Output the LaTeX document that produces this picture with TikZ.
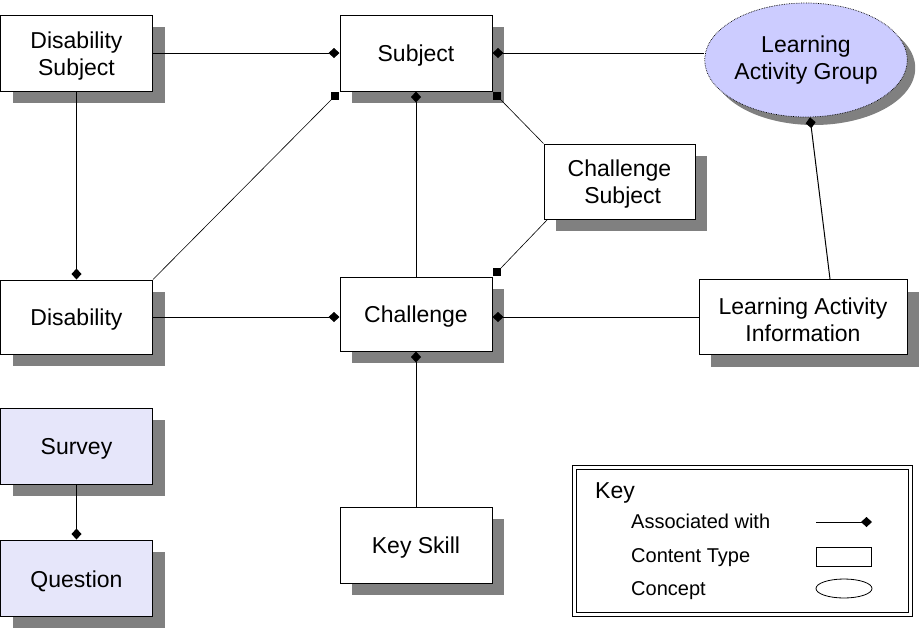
\documentclass[tikz,border=0pt]{standalone}
\usepackage{fontspec}
\setmainfont{Liberation Sans}
\usetikzlibrary{shapes.geometric,shadows,arrows.meta}
\definecolor{shadowgray}{RGB}{128,128,128}
\definecolor{lavfill}{RGB}{230,230,250}
\definecolor{ellfill}{RGB}{204,204,255}
\newcommand{\lowtext}[1]{\raisebox{-3pt}[\height][\depth]{#1}}
\tikzset{
  ctype/.style={draw=black, line width=1pt, fill=white, align=center,
    minimum width=152pt, minimum height=76pt, inner sep=0pt,
    font=\fontsize{23}{27}\selectfont,
    drop shadow={shadow xshift=12pt, shadow yshift=-12pt, fill=shadowgray, opacity=1}},
  concept/.style={ctype, fill=lavfill},
  conc/.style={ellipse, draw=black, densely dotted, line width=0.7pt, fill=ellfill,
    align=center, inner sep=0pt, font=\fontsize{23}{27}\selectfont,
    drop shadow={shadow xshift=8pt, shadow yshift=-8pt, fill=shadowgray, opacity=1}},
  assoc/.style={line width=1pt, -{Diamond[length=11pt,width=10pt]}},
  rassoc/.style={line width=1pt, {Diamond[length=11pt,width=10pt]}-},
  thinline/.style={line width=0.6pt},
  sqmark/.style={fill=black, minimum width=8pt, minimum height=8pt, inner sep=0pt},
  keytxt/.style={anchor=base west, inner sep=0pt, font=\fontsize{20}{24}\selectfont},
}
\begin{document}
\begin{tikzpicture}[x=1pt,y=-1pt]
\useasboundingbox (0,0) rectangle (922,630);
% content types
\node[ctype] (ds) at (76.5,53) {\lowtext{Disability}\\\lowtext{Subject}};
\node[ctype] (subj) at (416,53) {\lowtext{Subject}};
\node[ctype, minimum width=151pt, minimum height=75pt] (cs) at (619.5,181.5) {\lowtext{Challenge}\\\lowtext{ Subject}};
\node[ctype, minimum height=74pt] (dis) at (76.5,317) {\lowtext{Disability}};
\node[ctype, minimum height=74pt] (chal) at (416,314) {\lowtext{Challenge}};
\node[ctype, minimum width=208pt, minimum height=75pt] (lai) at (803,317) {\lowtext{Learning Activity}\\\lowtext{Information}};
\node[concept] (survey) at (76.5,446) {\lowtext{Survey}};
\node[concept] (question) at (76.5,578) {\lowtext{Question}};
\node[ctype] (ks) at (416,545) {\lowtext{Key Skill}};
\node[conc, minimum width=190pt, minimum height=114pt] (lag) at (806,60) {Learning\\Activity Group};
% corner square markers
\node[sqmark, anchor=north east] (sq1) at (subj.south west) {};
\node[sqmark, anchor=north west] (sq2) at (subj.south east) {};
\node[sqmark, anchor=south west] (sq3) at (chal.north east) {};
% connectors
\draw[assoc] (ds.east) -- (subj.west);
\draw[rassoc] (subj.east) -- (lag.west |- subj.east);
\draw[assoc] (ds.south) -- (dis.north);
\draw[thinline] (sq1.south west) -- (dis.north east);
\draw[rassoc] (subj.south) -- (chal.north);
\draw[thinline] (sq2.south east) -- (cs.north west);
\draw[thinline] ([xshift=4pt]cs.south west) -- (sq3.north east);
\draw[assoc] (dis.east) -- (chal.west |- dis.east);
\draw[rassoc] (chal.east |- lai.west) -- (lai.west);
\draw[rassoc] (chal.south) -- (ks.north);
\draw[assoc] ([xshift=27pt]lai.north) -- (lag.-86);
\draw[assoc] (survey.south) -- (question.north);
% key
\node[draw=black, line width=1pt, minimum width=340pt, minimum height=151pt, inner sep=0pt] (keyout) at (742,540.5) {};
\node[draw=black, line width=1pt, minimum width=332pt, minimum height=143pt, inner sep=0pt] (keyin) at (742,540.5) {};
\node[anchor=base west, inner sep=0pt, font=\fontsize{23}{27}\selectfont] (keyt) at (595,498) {Key};
\node[keytxt] (k1) at (631,528.5) {Associated with};
\node[keytxt] (k2) at (631,562) {Content Type};
\node[keytxt] (k3) at (631,595.5) {Concept};
\coordinate (la) at (816,522);
\coordinate (lb) at (872,522);
\draw[assoc] (la) -- (lb);
\node[draw=black, line width=0.8pt, minimum width=55pt, minimum height=19pt, inner sep=0pt] (kr) at (843.5,556.5) {};
\node[ellipse, draw=black, line width=0.8pt, minimum width=56pt, minimum height=19pt, inner sep=0pt] (ke) at (844,588.5) {};
\end{tikzpicture}
\end{document}
